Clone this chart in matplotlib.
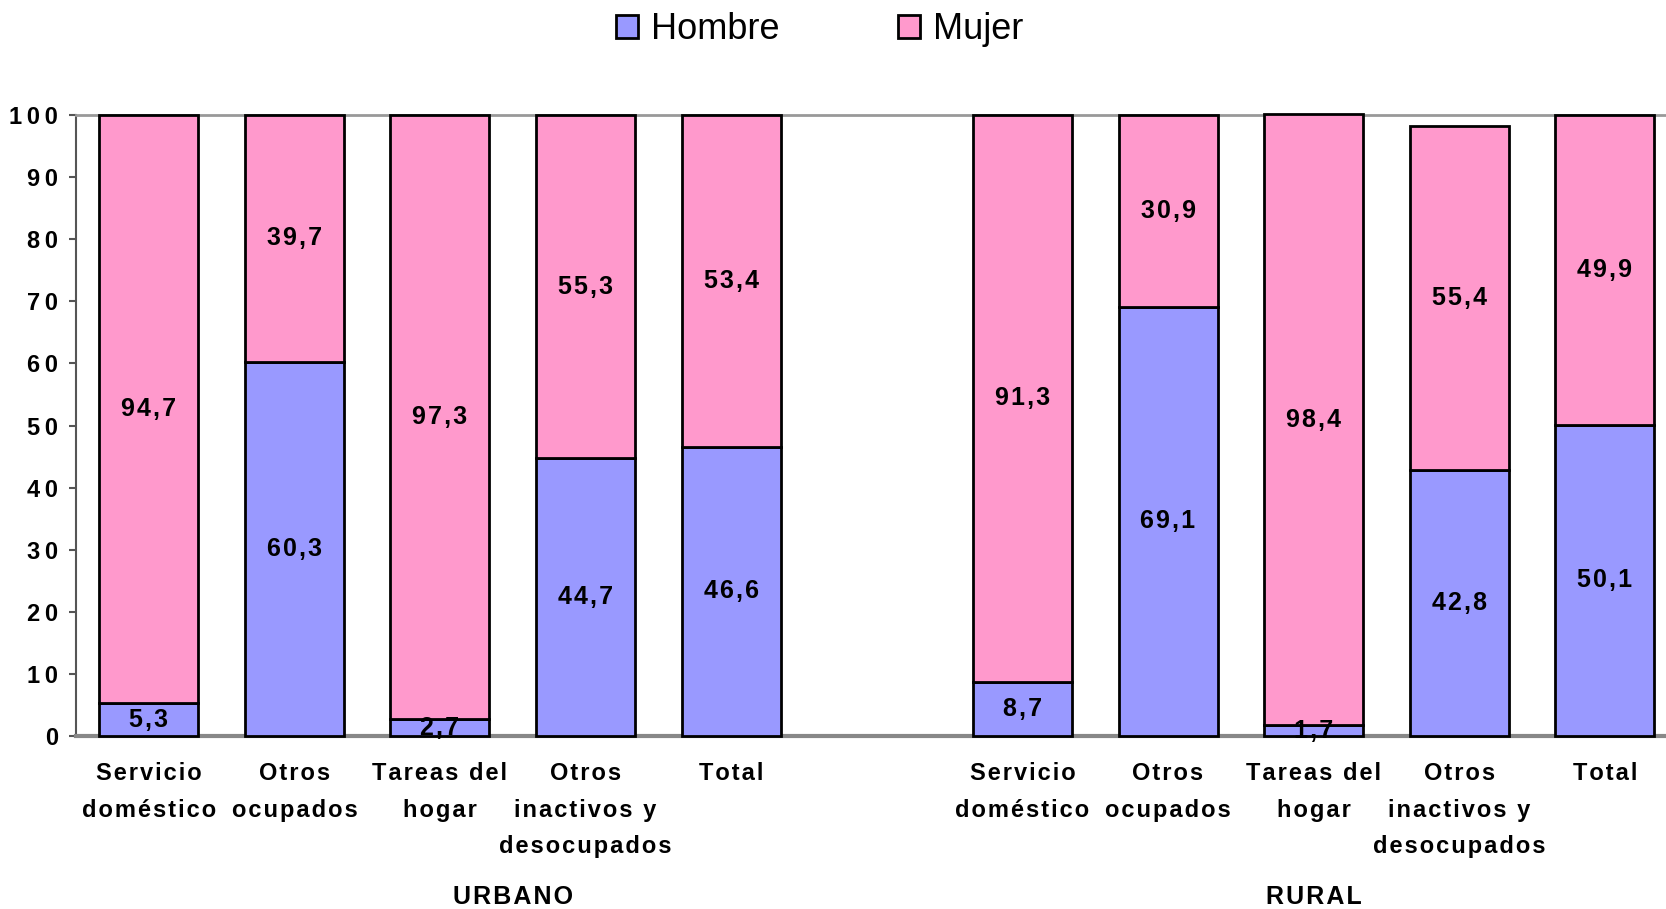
import matplotlib
matplotlib.use('Agg')
import matplotlib.pyplot as plt
from matplotlib.patches import Patch
from matplotlib.transforms import blended_transform_factory

plt.rcParams['font.family'] = ['Liberation Sans', 'DejaVu Sans']

# datos: porcentaje por sexo segun categoria, urbano y rural
categorias = ['Servicio\ndoméstico', 'Otros\nocupados', 'Tareas del\nhogar',
              'Otros\ninactivos y\ndesocupados', 'Total']
hombre_urbano = [5.3, 60.3, 2.7, 44.7, 46.6]
mujer_urbano = [94.7, 39.7, 97.3, 55.3, 53.4]
hombre_rural = [8.7, 69.1, 1.7, 42.8, 50.1]
mujer_rural = [91.3, 30.9, 98.4, 55.4, 49.9]
grupos = ['URBANO', 'RURAL']

col_h = '#9999FF'
col_m = '#FF99CC'

def espaciar(s, sep):
    # imita el espaciado entre letras del grafico original
    return '\n'.join(sep.join(linea) for linea in s.split('\n'))

def fmt(v):
    return espaciar(f'{v:.1f}'.replace('.', ','), '\u200a')

fig = plt.figure(figsize=(16.66, 9.09), dpi=100)
ax = fig.add_axes([0.0456, 0.1903, 0.9544, 0.6832])

pos_urb = [0, 1, 2, 3, 4]
pos_rur = [6, 7, 8, 9, 10]
ancho = 0.68

for pos, hom, muj in [(pos_urb, hombre_urbano, mujer_urbano),
                      (pos_rur, hombre_rural, mujer_rural)]:
    ax.bar(pos, hom, width=ancho, color=col_h, edgecolor='black', linewidth=2, clip_on=False, zorder=3)
    ax.bar(pos, muj, width=ancho, bottom=hom, color=col_m, edgecolor='black', linewidth=2, clip_on=False, zorder=3)
    for x, h, m in zip(pos, hom, muj):
        ax.text(x, h / 2, fmt(h), ha='center', va='center', fontsize=18, fontweight='bold', zorder=4)
        ax.text(x, h + m / 2, fmt(m), ha='center', va='center', fontsize=18, fontweight='bold', zorder=4)

ax.set_xlim(-0.5, 10.42)
ax.set_ylim(0, 100)
ax.set_yticks(range(0, 101, 10))
ax.set_yticklabels([espaciar(str(v), '\u2009') for v in range(0, 101, 10)])
ax.set_xticks(pos_urb + pos_rur)
ax.set_xticklabels([espaciar(c, '\u200a') for c in categorias + categorias],
                   fontsize=17, fontweight='bold', linespacing=1.75, va='top')
ax.tick_params(axis='x', length=0, pad=19)
ax.tick_params(axis='y', length=5, width=1.5, color='#555555', labelsize=17, pad=8)
for lab in ax.get_yticklabels():
    lab.set_fontweight('bold')

ax.spines['right'].set_visible(False)
ax.spines['top'].set_color('#999999')
ax.spines['top'].set_linewidth(2)
ax.spines['left'].set_color('#555555')
ax.spines['left'].set_linewidth(1.5)
ax.spines['bottom'].set_color('#888888')
ax.spines['bottom'].set_linewidth(3)

trans = blended_transform_factory(ax.transData, fig.transFigure)
ax.text(2.5, 0.013, espaciar(grupos[0], '\u200a'), transform=trans, ha='center', va='center',
        fontsize=18, fontweight='bold')
ax.text(8, 0.013, espaciar(grupos[1], '\u200a'), transform=trans, ha='center', va='center',
        fontsize=18, fontweight='bold')

handles = [Patch(facecolor=col_h, edgecolor='black', linewidth=2, label='Hombre'),
           Patch(facecolor=col_m, edgecolor='black', linewidth=2, label='Mujer')]
fig.legend(handles=handles, loc='center', bbox_to_anchor=(0.492, 0.967), ncol=2, frameon=False,
           fontsize=26, handlelength=0.6, handleheight=0.6, handletextpad=0.35, columnspacing=3.3)

fig.savefig('out.png', dpi=100)
